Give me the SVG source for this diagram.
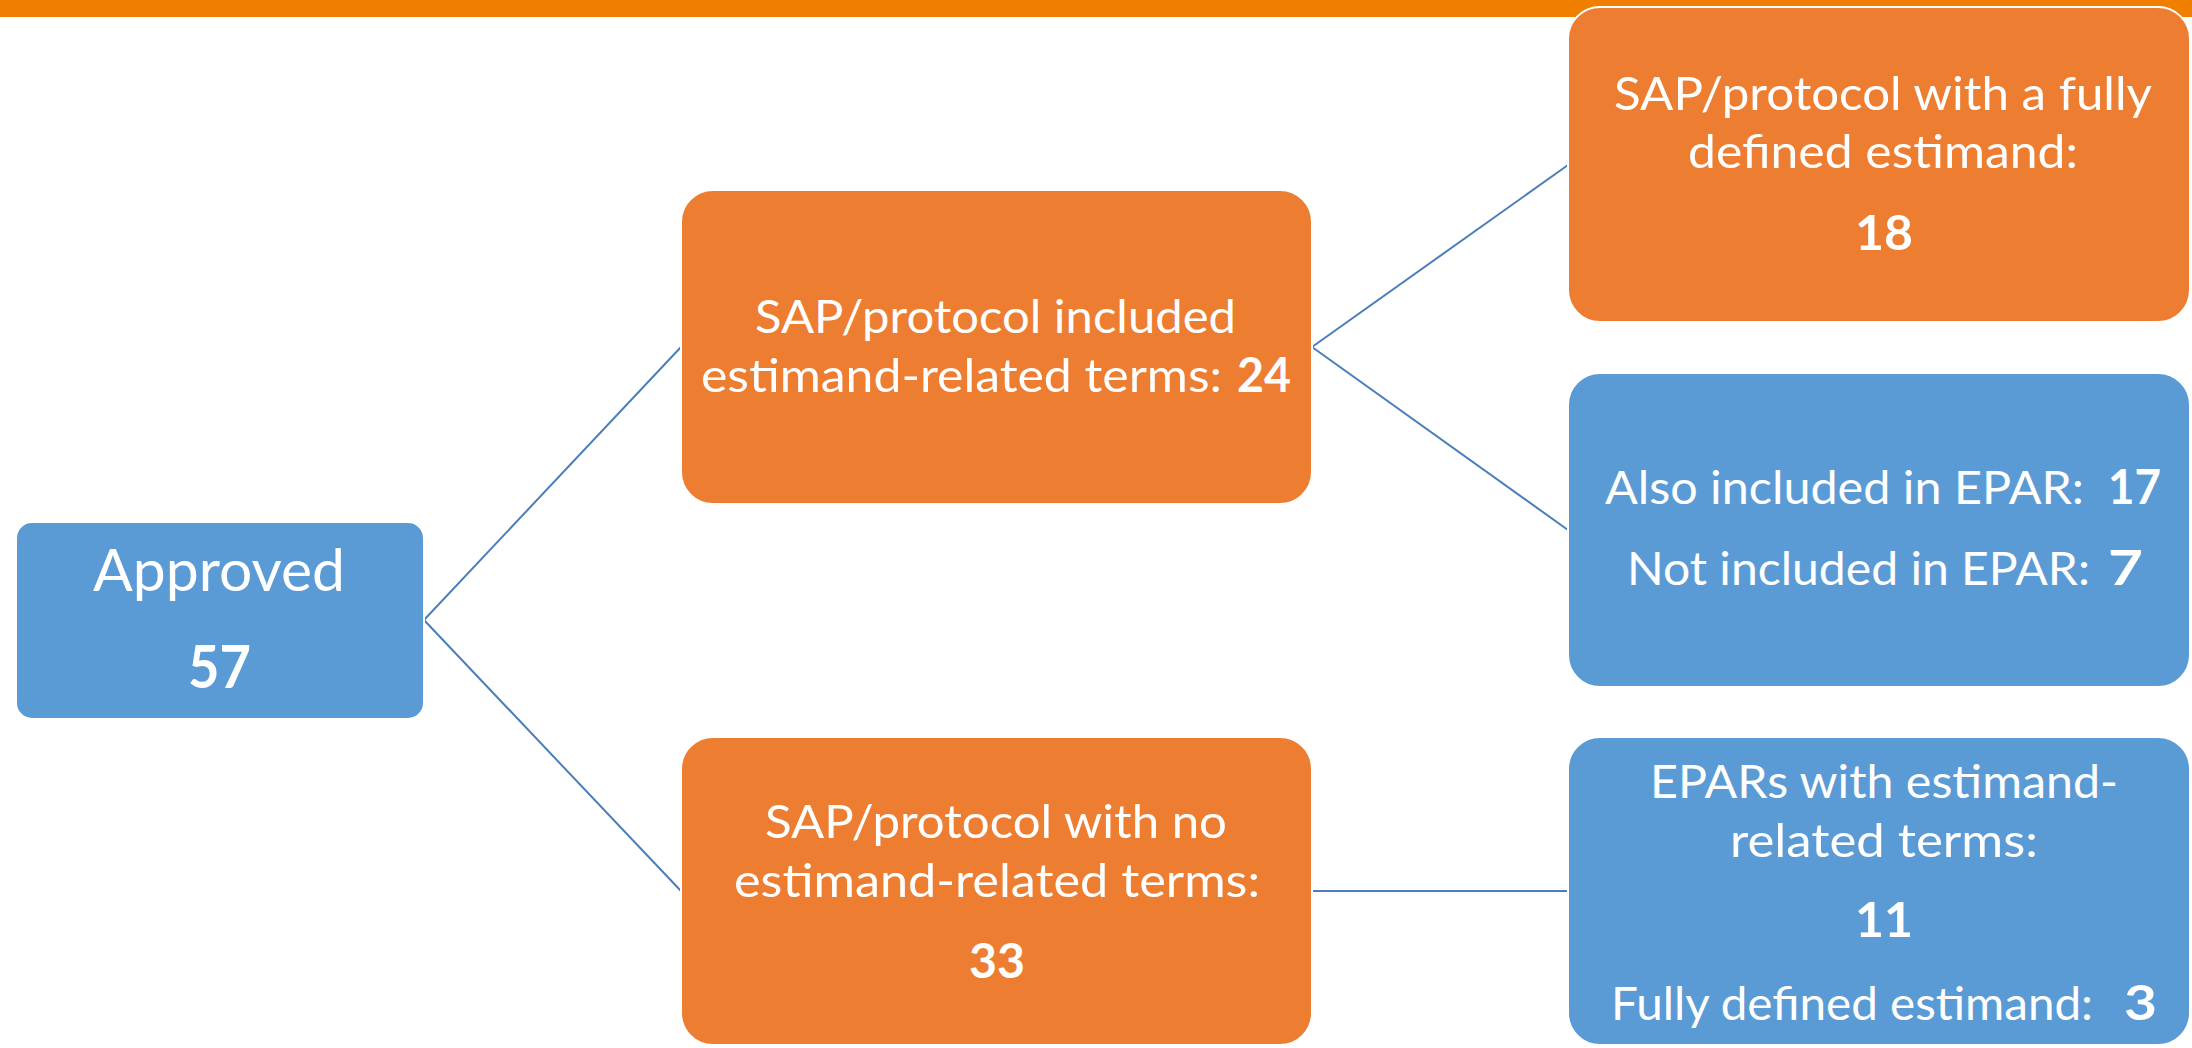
<svg xmlns="http://www.w3.org/2000/svg" width="2192" height="1048" viewBox="0 0 2192 1048">
<style>
.bg{fill:#ffffff}
.bar{fill:#F07F00}
.or{fill:#ED7D31;stroke:#ffffff;stroke-width:2}
.bl{fill:#5B9BD5;stroke:#ffffff;stroke-width:2}
.t{font-family:Lato,"Open Sans",sans-serif;fill:#ffffff;font-size:47px}
.b{font-weight:bold}
.big{font-size:59px}
.c{fill:none;stroke:#4A7EBB;stroke-width:2}
</style>
<rect class="bg" x="0" y="0" width="2192" height="1048"/>
<rect class="bar" x="0" y="0" width="2192" height="17"/>
<g id="connectors">
<line class="c" x1="424" y1="620" x2="681" y2="347"/>
<line class="c" x1="424" y1="620" x2="681" y2="891"/>
<line class="c" x1="1312" y1="347" x2="1568" y2="165"/>
<line class="c" x1="1312" y1="347" x2="1568" y2="530"/>
<line class="c" x1="1312" y1="891" x2="1568" y2="891"/>
</g>
<g id="approved">
<rect class="bl" x="16" y="522" width="408" height="197" rx="16"/>
<text class="t big" x="93" y="591" textLength="252" lengthAdjust="spacingAndGlyphs">Approved</text>
<text class="t big b" x="188" y="688" textLength="63" lengthAdjust="spacingAndGlyphs">57</text>
</g>
<g id="included">
<rect class="or" x="681" y="190" width="631" height="314" rx="32"/>
<text class="t" x="755" y="333" textLength="481" lengthAdjust="spacingAndGlyphs">SAP/protocol included</text>
<text class="t" x="701" y="392" textLength="521" lengthAdjust="spacingAndGlyphs">estimand-related terms:</text>
<text class="t b" x="1237" y="392" textLength="54" lengthAdjust="spacingAndGlyphs">24</text>
</g>
<g id="fully-defined">
<rect class="or" x="1568" y="7" width="622" height="315" rx="32"/>
<text class="t" x="1614" y="110" textLength="538" lengthAdjust="spacingAndGlyphs">SAP/protocol with a fully</text>
<text class="t" x="1688" y="168" textLength="390" lengthAdjust="spacingAndGlyphs">defined estimand:</text>
<text class="t b" x="1855" y="250" textLength="58" lengthAdjust="spacingAndGlyphs">18</text>
</g>
<g id="epar">
<rect class="bl" x="1568" y="373" width="622" height="314" rx="32"/>
<text class="t" x="1605" y="504" textLength="479" lengthAdjust="spacingAndGlyphs">Also included in EPAR:</text>
<text class="t b" x="2108" y="504" textLength="53" lengthAdjust="spacingAndGlyphs">17</text>
<text class="t" x="1627" y="585" textLength="463" lengthAdjust="spacingAndGlyphs">Not included in EPAR:</text>
<text class="t b" x="2108" y="585" textLength="35" lengthAdjust="spacingAndGlyphs">7</text>
</g>
<g id="no-terms">
<rect class="or" x="681" y="737" width="631" height="308" rx="32"/>
<text class="t" x="765" y="838" textLength="462" lengthAdjust="spacingAndGlyphs">SAP/protocol with no</text>
<text class="t" x="734" y="897" textLength="526" lengthAdjust="spacingAndGlyphs">estimand-related terms:</text>
<text class="t b" x="969" y="978" textLength="56" lengthAdjust="spacingAndGlyphs">33</text>
</g>
<g id="epar-terms">
<rect class="bl" x="1568" y="737" width="622" height="308" rx="32"/>
<text class="t" x="1650" y="798" textLength="468" lengthAdjust="spacingAndGlyphs">EPARs with estimand-</text>
<text class="t" x="1730" y="857" textLength="308" lengthAdjust="spacingAndGlyphs">related terms:</text>
<text class="t b" x="1855" y="937" textLength="58" lengthAdjust="spacingAndGlyphs">11</text>
<text class="t" x="1611" y="1020" textLength="482" lengthAdjust="spacingAndGlyphs">Fully defined estimand:</text>
<text class="t b" x="2124" y="1020" textLength="33" lengthAdjust="spacingAndGlyphs">3</text>
</g>
</svg>
